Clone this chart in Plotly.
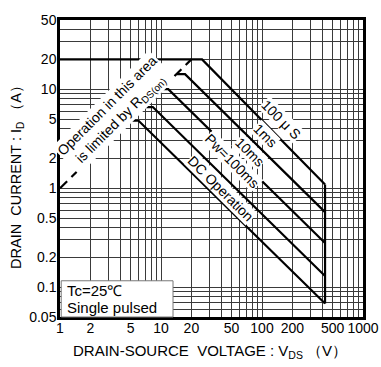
import math
import plotly.graph_objects as go

# ---- data (V in volts, I in amps) ----
vdss = 421
curve_names = ["100 μ S", "1ms", "10ms", "Pw=100ms", "DC Operation"]
v_100us = [1, 25.5, vdss]
i_100us = [20, 20, 1.09]
v_1ms = [14.2, 17.3, vdss]
i_1ms = [14.2, 14.2, 0.573]
v_10ms = [10, 11.8, vdss]
i_10ms = [10, 10, 0.279]
v_100ms = [6.6, 8.3, vdss]
i_100ms = [6.6, 6.6, 0.13]
v_dc = [4.8, 6.0, vdss]
i_dc = [4.8, 4.8, 0.0684]
v_vdss = [vdss, vdss]
i_vdss = [1.09, 0.0684]
v_rds = [1, 20]
i_rds = [1, 20]

x_labels = [1, 2, 5, 10, 20, 50, 100, 200, 500, 1000]
y_labels = [0.05, 0.1, 0.2, 0.5, 1, 2, 5, 10, 20, 50]

# label anchor positions (V, I)
label_pos = [(156.7, 4.92), (106.0, 3.42), (76.0, 2.34), (50.5, 1.87), (39.5, 0.99)]
rds_pos = (3.39, 5.79)

FONT = "Liberation Sans, Arial, Helvetica, sans-serif"


def fmt(v):
    return "%g" % v


x_grid = [m * 10 ** e for e in range(0, 3) for m in range(1, 10)] + [1000]
y_grid = [round(m * 10 ** e, 6) for e in range(-2, 2) for m in range(1, 10)]
y_grid = [v for v in y_grid if 0.05 - 1e-9 <= v <= 50 + 1e-9]

x_text = [fmt(v) if v in x_labels else "" for v in x_grid]
y_text = [fmt(v) if any(abs(v - l) < 1e-9 for l in y_labels) else "" for v in y_grid]

fig = go.Figure()

curves = [(v_100us, i_100us), (v_1ms, i_1ms), (v_10ms, i_10ms), (v_100ms, i_100ms), (v_dc, i_dc)]
for (vv, ii), nm in zip(curves, curve_names):
    fig.add_trace(go.Scatter(x=vv, y=ii, mode="lines", name=nm,
                             line=dict(color="black", width=2.2), showlegend=False))
fig.add_trace(go.Scatter(x=v_vdss, y=i_vdss, mode="lines", line=dict(color="black", width=2.2),
                         showlegend=False))
fig.add_trace(go.Scatter(x=v_rds, y=i_rds, mode="lines",
                         line=dict(color="black", width=2.2, dash="10px,6px"), showlegend=False))

annotations = []
for nm, (xv, yv) in zip(curve_names, label_pos):
    annotations.append(dict(x=math.log10(xv), y=math.log10(yv), xref="x", yref="y", text=nm,
                            showarrow=False, textangle=45, bgcolor="white", borderpad=0,
                            font=dict(family=FONT, size=14, color="black")))
annotations.append(dict(x=math.log10(rds_pos[0]), y=math.log10(rds_pos[1]), xref="x", yref="y",
                        text="Operation in this area<br>is limited by R<sub>DS(on)</sub>",
                        showarrow=False, textangle=-45, bgcolor="white", borderpad=1,
                        font=dict(family=FONT, size=14, color="black")))
# condition box texts
annotations.append(dict(x=0.0165, y=0.089, xref="paper", yref="paper", xanchor="left", yanchor="middle",
                        text="Tc=25℃", showarrow=False, font=dict(family=FONT, size=15, color="black")))
annotations.append(dict(x=0.0165, y=0.033, xref="paper", yref="paper", xanchor="left", yanchor="middle",
                        text="Single pulsed", showarrow=False, font=dict(family=FONT, size=15, color="black")))
# axis titles
annotations.append(dict(x=-0.142, y=0.485, xref="paper", yref="paper", xanchor="center", yanchor="middle",
                        text="DRAIN  CURRENT : I<sub>D</sub> （A）", textangle=-90, showarrow=False,
                        font=dict(family=FONT, size=14.5, color="black")))
annotations.append(dict(x=0.495, y=-0.1155, xref="paper", yref="paper", xanchor="center", yanchor="middle",
                        text="DRAIN-SOURCE  VOLTAGE : V<sub>DS</sub> （V）", showarrow=False,
                        font=dict(family=FONT, size=15, color="black")))

shapes = [dict(type="rect", xref="paper", yref="paper", x0=0.004, x1=0.373, y0=0.0, y1=0.122,
               fillcolor="white", line=dict(color="#777", width=1), layer="above")]

fig.update_layout(
    width=381, height=367,
    margin=dict(l=60, r=18, t=14, b=50),
    paper_bgcolor="white", plot_bgcolor="white",
    font=dict(family=FONT, size=14, color="black"),
    annotations=annotations,
    shapes=shapes,
    xaxis=dict(type="log", range=[0, 3], tickvals=x_grid, ticktext=x_text, ticks="", ticklen=0,
               ticklabelstandoff=-4,
               showgrid=True, gridcolor="#3a3a3a", gridwidth=1, zeroline=False,
               showline=True, mirror=True, linecolor="black", linewidth=2.5,
               tickfont=dict(family=FONT, size=14, color="black")),
    yaxis=dict(type="log", range=[math.log10(0.05), math.log10(50)], tickvals=y_grid, ticktext=y_text,
               ticks="", ticklen=0, ticklabelstandoff=-2,
               showgrid=True, gridcolor="#3a3a3a", gridwidth=1, zeroline=False,
               showline=True, mirror=True, linecolor="black", linewidth=2.5,
               tickfont=dict(family=FONT, size=14, color="black")),
)

fig.write_html("out.html", config={"displayModeBar": False},
               post_script="document.body.style.margin='0px';")
